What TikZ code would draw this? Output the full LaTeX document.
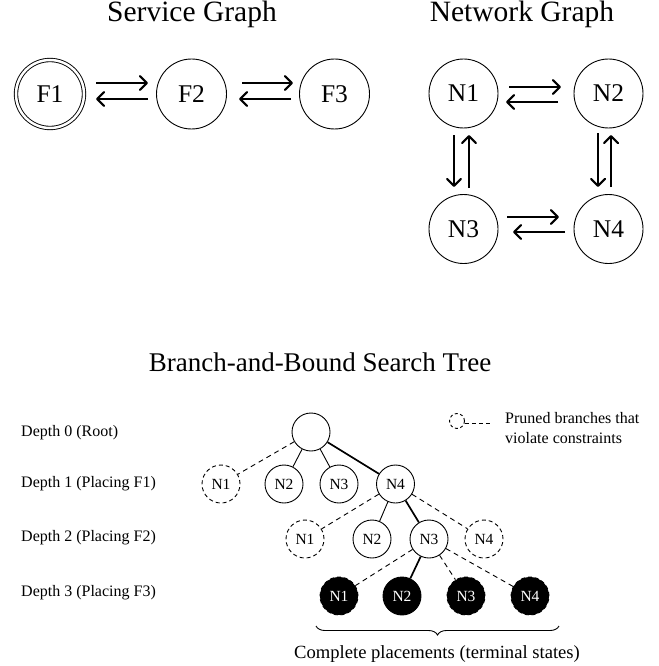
\documentclass[tikz,border=0pt]{standalone}
\usepackage{fontspec}
\setmainfont{Liberation Serif}
\usetikzlibrary{arrows.meta,calc,decorations.pathreplacing}
\begin{document}
\begin{tikzpicture}[x=1pt,y=-1pt,
  gnode/.style={circle,draw,line width=0.9pt,minimum size=70pt,inner sep=0pt,font=\fontsize{25.5}{30}\selectfont},
  tnode/.style={circle,draw,line width=0.9pt,minimum size=38pt,inner sep=0pt,font=\fontsize{15.5}{18}\selectfont},
  pruned/.style={tnode,dash pattern=on 4pt off 3pt},
  term/.style={tnode,fill=black,text=white},
  termp/.style={term,dash pattern=on 4pt off 3pt},
  garrow/.style={line width=2.1pt,-{Straight Barb[length=7pt,width=14pt,line width=2.1pt,round]}},
  tedge/.style={line width=0.9pt},
  pedge/.style={line width=0.9pt,dash pattern=on 5pt off 4pt},
  bedge/.style={line width=1.7pt},
  title/.style={anchor=base,font=\fontsize{29.5}{34}\selectfont},
  label/.style={anchor=west,font=\fontsize{16}{19}\selectfont,inner sep=0pt},
]
\useasboundingbox (0,0) rectangle (658,666);

% titles
\node[title] (tsg) at (192,22) {Service Graph};
\node[title] (tng) at (522,22) {Network Graph};
\node[title,font=\fontsize{27}{32}\selectfont] (tbb) at (320,371) {Branch-and-Bound Search Tree};

% service graph
\node[gnode,minimum size=68pt,double,double distance=2.5pt] (F1) at (50,94) {F1};
\node[gnode] (F2) at (191.5,94) {F2};
\node[gnode] (F3) at (334.5,94) {F3};
\draw[garrow] ($(F1)+(46,-11)$) -- ($(F2)+(-43.5,-11)$);
\draw[garrow] ($(F2)+(-43.5,5)$) -- ($(F1)+(46,5)$);
\draw[garrow] ($(F2)+(50.5,-11)$) -- ($(F3)+(-41.5,-11)$);
\draw[garrow] ($(F3)+(-43.5,5)$) -- ($(F2)+(47.5,5)$);

% network graph
\node[gnode,minimum size=69pt] (N1) at (463.5,93.5) {N1};
\node[gnode,minimum size=69pt] (N2) at (608.5,93.5) {N2};
\node[gnode,minimum size=69pt] (N3) at (463.5,229) {N3};
\node[gnode,minimum size=69pt] (N4) at (608.5,229) {N4};
\draw[garrow] ($(N1)+(45.5,-6.5)$) -- ($(N2)+(-47.5,-6.5)$);
\draw[garrow] ($(N2)+(-50.5,8.5)$) -- ($(N1)+(42.5,8.5)$);
\draw[garrow] ($(N3)+(43.5,-12)$) -- ($(N4)+(-49.5,-12)$);
\draw[garrow] ($(N4)+(-43.5,3)$) -- ($(N3)+(49.5,3)$);
\draw[garrow] ($(N1)+(-9.5,41.5)$) -- ($(N3)+(-9.5,-42)$);
\draw[garrow] ($(N3)+(5.5,-41)$) -- ($(N1)+(5.5,41.5)$);
\draw[garrow] ($(N2)+(-10.5,39.5)$) -- ($(N4)+(-10.5,-42)$);
\draw[garrow] ($(N4)+(2.5,-42)$) -- ($(N2)+(2.5,41.5)$);

% depth labels
\node[label] (d0) at (21,433) {Depth 0 (Root)};
\node[label] (d1) at (21,484) {Depth 1 (Placing F1)};
\node[label] (d2) at (21,538) {Depth 2 (Placing F2)};
\node[label] (d3) at (21,593) {Depth 3 (Placing F3)};

% tree
\node[tnode] (r) at (311,432) {};
\node[pruned] (a1) at (221,484) {N1};
\node[tnode] (a2) at (284,484) {N2};
\node[tnode] (a3) at (339,484) {N3};
\node[tnode] (a4) at (395.5,484) {N4};
\node[pruned] (b1) at (305,539) {N1};
\node[tnode] (b2) at (372,539) {N2};
\node[tnode] (b3) at (429,539) {N3};
\node[pruned] (b4) at (484,539) {N4};
\node[termp] (c1) at (339,596) {N1};
\node[term] (c2) at (402,596) {N2};
\node[termp] (c3) at (466,596) {N3};
\node[termp] (c4) at (530,596) {N4};

\draw[pedge] (r) -- (a1);
\draw[tedge] (r) -- (a2);
\draw[tedge] (r) -- (a3);
\draw[bedge] (r) -- (a4);
\draw[pedge] (a4) -- (b1);
\draw[tedge] (a4) -- (b2);
\draw[bedge] (a4) -- (b3);
\draw[pedge] (a4) -- (b4);
\draw[pedge] (b3) -- (c1);
\draw[bedge] (b3) -- (c2);
\draw[pedge] (b3) -- (c3);
\draw[pedge] (b3) -- (c4);

% legend
\node[circle,draw,line width=0.9pt,dash pattern=on 3pt off 2.5pt,minimum size=15pt,inner sep=0pt] (lc) at (457,421) {};
\coordinate (le) at (490,423);
\draw[pedge,dash pattern=on 4pt off 3pt] (lc.east |- le) -- (le);
\node[anchor=north west,align=left,inner sep=0pt,font=\fontsize{16}{20}\selectfont] (lt) at (505,412) {Pruned branches that\\violate constraints};

% brace
\coordinate (bl) at (316,626);
\coordinate (br) at (559,626);
\draw[line width=0.9pt,decorate,decoration={brace,mirror,amplitude=9pt}] (bl) -- (br);
\node[anchor=base,font=\fontsize{18.6}{22}\selectfont] (ct) at (437,658) {Complete placements (terminal states)};
\end{tikzpicture}
\end{document}
